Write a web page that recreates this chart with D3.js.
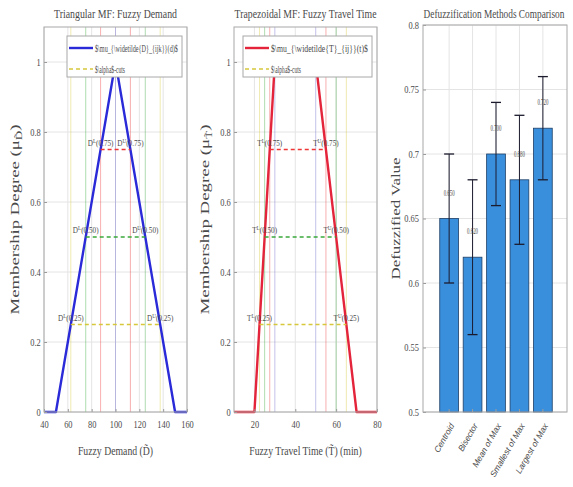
<!DOCTYPE html>
<html>
<head>
<meta charset="utf-8">
<title>Fuzzy MF and defuzzification</title>
<script src="https://cdnjs.cloudflare.com/ajax/libs/d3/7.8.5/d3.min.js"></script>
<style>
    body { margin: 0; background: #fff; }
    text { font-family: "Liberation Serif", "DejaVu Serif", serif; fill: #4a4a4a; }
    .tick line { stroke: #9a9a9a; }
    .grid line { stroke: #e4e4e4; stroke-width: 1; }
</style>
</head>
<body>
<svg id="chart" width="573" height="487"></svg>
<script>
// ---- data ----
const alphaLevels = [0.25, 0.5, 0.75];
const alphaText = ["0.25", "0.50", "0.75"];

const demandX = [40, 50, 100, 150, 160];
const demandMu = [0, 0, 1, 0, 0];
const demandLower = [62.5, 75, 87.5];
const demandUpper = [137.5, 125, 112.5];
const demandCore = [100];
const demandTicks = [40, 60, 80, 100, 120, 140, 160];

const travelX = [10, 20, 30, 50, 70, 80];
const travelMu = [0, 0, 1, 1, 0, 0];
const travelLower = [22.5, 25, 27.5];
const travelUpper = [65, 60, 55];
const travelCore = [30, 50];
const travelTicks = [20, 40, 60, 80];

const muTicks = [0, 0.2, 0.4, 0.6, 0.8, 1];

const methods = ["Centroid", "Bisector", "Mean of Max", "Smallest of Max", "Largest of Max"];
const defuzzValues = [0.65, 0.62, 0.70, 0.68, 0.72];
const defuzzErrors = [0.05, 0.06, 0.04, 0.05, 0.04];
const valueTicks = [0.5, 0.55, 0.6, 0.65, 0.7, 0.75, 0.8];

// ---- styling ----
const cutColors = ["#d6c83a", "#3aa83a", "#ee3636"];
const svg = d3.select("#chart");

// text narrowed by a horizontal scale, anchored at x,y
function narrow(g, x, y, size, sx, anchor) {
    return g.append("g")
        .attr("transform", `translate(${x},${y}) scale(${sx},1)`)
        .append("text")
        .attr("font-size", size)
        .attr("text-anchor", anchor || "middle");
}

// squeeze a finished text so that it spans a measured width
function fitWidth(t, width) {
    const w = t.node().getComputedTextLength();
    const p = d3.select(t.node().parentNode);
    p.attr("transform", p.attr("transform").replace(/scale\([^)]*\)/, `scale(${width / w},1)`));
    return t;
}

function drawMF(cfg) {
    const g = svg.append("g");
    const top = 27, bottom = 412;
    const x = d3.scaleLinear().domain(cfg.domain).range([cfg.left, cfg.right]);
    const y = d3.scaleLinear().domain([0, 1.1]).range([bottom, top]);

    // grid
    g.append("g").attr("class", "grid")
        .selectAll("line").data(cfg.ticks).join("line")
        .attr("x1", d => x(d)).attr("x2", d => x(d))
        .attr("y1", top).attr("y2", bottom);
    g.append("g").attr("class", "grid")
        .selectAll("line").data(muTicks).join("line")
        .attr("x1", cfg.left).attr("x2", cfg.right)
        .attr("y1", d => y(d)).attr("y2", d => y(d));

    // vertical markers at the alpha-cut bounds and the core
    alphaLevels.forEach((a, i) => {
        [cfg.lower[i], cfg.upper[i]].forEach(v => {
            g.append("line")
                .attr("x1", x(v)).attr("x2", x(v))
                .attr("y1", top).attr("y2", bottom)
                .attr("stroke", cutColors[i]).attr("stroke-opacity", 0.4)
                .attr("stroke-width", 1);
        });
    });
    cfg.core.forEach(v => {
        g.append("line")
            .attr("x1", x(v)).attr("x2", x(v))
            .attr("y1", top).attr("y2", bottom)
            .attr("stroke", "#8c86d8").attr("stroke-opacity", 0.5);
    });

    // membership function
    const pts = cfg.xs.map((v, i) => [v, cfg.mus[i]]);
    g.append("path")
        .datum(pts)
        .attr("fill", "none")
        .attr("stroke", cfg.color)
        .attr("stroke-width", 2.4)
        .attr("stroke-linejoin", "round")
        .attr("d", d3.line().x(d => x(d[0])).y(d => y(d[1])));

    // alpha-cut dashed segments + labels
    alphaLevels.forEach((a, i) => {
        g.append("line")
            .attr("x1", x(cfg.lower[i])).attr("x2", x(cfg.upper[i]))
            .attr("y1", y(a)).attr("y2", y(a))
            .attr("stroke", cutColors[i]).attr("stroke-width", 1.3)
            .attr("stroke-dasharray", "4,3");
        [["L", cfg.lower[i]], ["U", cfg.upper[i]]].forEach(([s, v]) => {
            const t = narrow(g, x(v), y(a) - 4, 9, 0.8);
            t.append("tspan").text(cfg.letter);
            t.append("tspan").attr("dy", -3).attr("font-size", 6.5).text(s);
            t.append("tspan").attr("dy", 3).text("(" + alphaText[i] + ")");
        });
    });

    // axes
    const xAxis = g.append("g")
        .attr("transform", `translate(0,${bottom})`)
        .call(d3.axisBottom(x).tickValues(cfg.ticks).tickSize(-3).tickPadding(9));
    const yAxis = g.append("g")
        .attr("transform", `translate(${cfg.left},0)`)
        .call(d3.axisLeft(y).tickValues(muTicks).tickSize(-3).tickPadding(4)
            .tickFormat(d3.format("~g")));
    [xAxis, yAxis].forEach(a => {
        a.select(".domain").remove();
        a.selectAll("text").attr("font-size", 10.5).attr("fill", "#4a4a4a")
            .attr("transform", "scale(0.8,1)");
    });

    // box
    g.append("rect")
        .attr("x", cfg.left).attr("y", top)
        .attr("width", cfg.right - cfg.left).attr("height", bottom - top)
        .attr("fill", "none").attr("stroke", "#a8a8a8");

    // title and axis labels
    fitWidth(narrow(g, (cfg.left + cfg.right) / 2, 18, 12.5, 1).text(cfg.title), cfg.titleLen);
    const xl = narrow(g, (cfg.left + cfg.right) / 2, 455, 12.5, 0.78);
    xl.append("tspan").text(cfg.xlabel[0]);
    xl.append("tspan").text(cfg.letter + "\u0303");
    xl.append("tspan").text(cfg.xlabel[1]);

    const yl = g.append("text")
        .attr("transform", `translate(${cfg.yLabelX},${(top + bottom) / 2}) rotate(-90)`)
        .attr("text-anchor", "middle")
        .attr("font-size", 11.5)
        .attr("textLength", 190).attr("lengthAdjust", "spacingAndGlyphs");
    yl.append("tspan").text("Membership Degree (\u03bc");
    yl.append("tspan").attr("dy", 3).attr("font-size", 8).text(cfg.letter + "\u0303");
    yl.append("tspan").attr("dy", -3).text(")");

    // legend
    const lg = g.append("g");
    lg.append("rect")
        .attr("x", cfg.legX).attr("y", 36)
        .attr("width", cfg.legW).attr("height", 41)
        .attr("fill", "#fff").attr("stroke", "#a8a8a8");
    lg.append("line")
        .attr("x1", cfg.legX + 2).attr("x2", cfg.legX + 26)
        .attr("y1", 48).attr("y2", 48)
        .attr("stroke", cfg.color).attr("stroke-width", 2.4);
    lg.append("line")
        .attr("x1", cfg.legX + 2).attr("x2", cfg.legX + 26)
        .attr("y1", 69).attr("y2", 69)
        .attr("stroke", cutColors[0]).attr("stroke-width", 1.3)
        .attr("stroke-dasharray", "4,3");
    fitWidth(narrow(lg, cfg.legX + 28, 51.5, 10, 1, "start").text(cfg.legend), cfg.legW - 32);
    fitWidth(narrow(lg, cfg.legX + 28, 72.5, 10, 1, "start").text("$\\alpha$-cuts"), 30);
}

drawMF({
    domain: [40, 160], ticks: demandTicks, left: 44, right: 187,
    xs: demandX, mus: demandMu, lower: demandLower, upper: demandUpper, core: demandCore,
    color: "#2a2ad8", letter: "D",
    title: "Triangular MF: Fuzzy Demand", titleLen: 123,
    xlabel: ["Fuzzy Demand (", ")"],
    yLabelX: 19,
    legX: 67, legW: 115, legend: "$\\mu_{\\widetilde{D}_{ijk}}(d)$"
});

drawMF({
    domain: [10, 80], ticks: travelTicks, left: 234, right: 377,
    xs: travelX, mus: travelMu, lower: travelLower, upper: travelUpper, core: travelCore,
    color: "#e3243a", letter: "T",
    title: "Trapezoidal MF: Fuzzy Travel Time", titleLen: 142,
    xlabel: ["Fuzzy Travel Time (", ") (min)"],
    yLabelX: 209,
    legX: 243, legW: 129, legend: "$\\mu_{\\widetilde{T}_{ij}}(t)$"
});

// ---- defuzzification bar chart ----
(function () {
    const g = svg.append("g");
    const left = 423, right = 567, top = 25, bottom = 412;
    const x = d3.scaleBand().domain(methods).range([439.75, 552.25]).paddingInner(0.2);
    const y = d3.scaleLinear().domain([0.5, 0.8]).range([bottom, top]);

    g.append("g").attr("class", "grid")
        .selectAll("line").data(valueTicks).join("line")
        .attr("x1", left).attr("x2", right)
        .attr("y1", d => y(d)).attr("y2", d => y(d));
    g.append("g").attr("class", "grid")
        .selectAll("line").data(methods).join("line")
        .attr("x1", d => x(d) + x.bandwidth() / 2).attr("x2", d => x(d) + x.bandwidth() / 2)
        .attr("y1", top).attr("y2", bottom);

    g.selectAll(".bar").data(methods).join("rect")
        .attr("class", "bar")
        .attr("x", d => x(d))
        .attr("width", x.bandwidth())
        .attr("y", (d, i) => y(defuzzValues[i]))
        .attr("height", (d, i) => bottom - y(defuzzValues[i]))
        .attr("fill", "#3a8fdd")
        .attr("stroke", "#1d3f66").attr("stroke-width", 0.8);

    methods.forEach((m, i) => {
        const cx = x(m) + x.bandwidth() / 2;
        const lo = y(defuzzValues[i] - defuzzErrors[i]);
        const hi = y(defuzzValues[i] + defuzzErrors[i]);
        g.append("line").attr("x1", cx).attr("x2", cx).attr("y1", lo).attr("y2", hi)
            .attr("stroke", "#1b1b2e").attr("stroke-width", 1);
        [lo, hi].forEach(v => g.append("line")
            .attr("x1", cx - 5).attr("x2", cx + 5).attr("y1", v).attr("y2", v)
            .attr("stroke", "#1b1b2e").attr("stroke-width", 1.3));
        fitWidth(narrow(g, cx, y(defuzzValues[i] + 0.02) + 3, 8, 1)
            .text(d3.format(".3f")(defuzzValues[i])), 11);
    });

    const yAxis = g.append("g")
        .attr("transform", `translate(${left},0)`)
        .call(d3.axisLeft(y).tickValues(valueTicks).tickSize(-3).tickPadding(5)
            .tickFormat(d3.format("~g")));
    yAxis.select(".domain").remove();
    yAxis.selectAll("text").attr("font-size", 10.5).attr("fill", "#4a4a4a")
        .attr("transform", "scale(0.8,1)");

    const xAxis = g.append("g")
        .attr("transform", `translate(0,${bottom})`)
        .call(d3.axisBottom(x).tickSize(-3).tickPadding(6));
    xAxis.select(".domain").remove();
    xAxis.selectAll("text")
        .style("font-family", "'Liberation Sans', Arial, sans-serif")
        .style("font-style", "italic")
        .attr("font-size", 8.5).attr("fill", "#555")
        .attr("text-anchor", "end")
        .attr("dy", "0.35em")
        .attr("y", 0)
        .attr("transform", "translate(3,12) rotate(-60)");

    g.append("rect")
        .attr("x", left).attr("y", top)
        .attr("width", right - left).attr("height", bottom - top)
        .attr("fill", "none").attr("stroke", "#a8a8a8");

    fitWidth(narrow(g, (left + right) / 2 - 1, 18, 12, 1)
        .text("Defuzzification Methods Comparison"), 141);
    g.append("text")
        .attr("transform", `translate(400,${(top + bottom) / 2}) rotate(-90)`)
        .attr("text-anchor", "middle")
        .attr("font-size", 11.5)
        .attr("textLength", 122).attr("lengthAdjust", "spacingAndGlyphs")
        .text("Defuzzified Value");
})();
</script>
</body>
</html>
